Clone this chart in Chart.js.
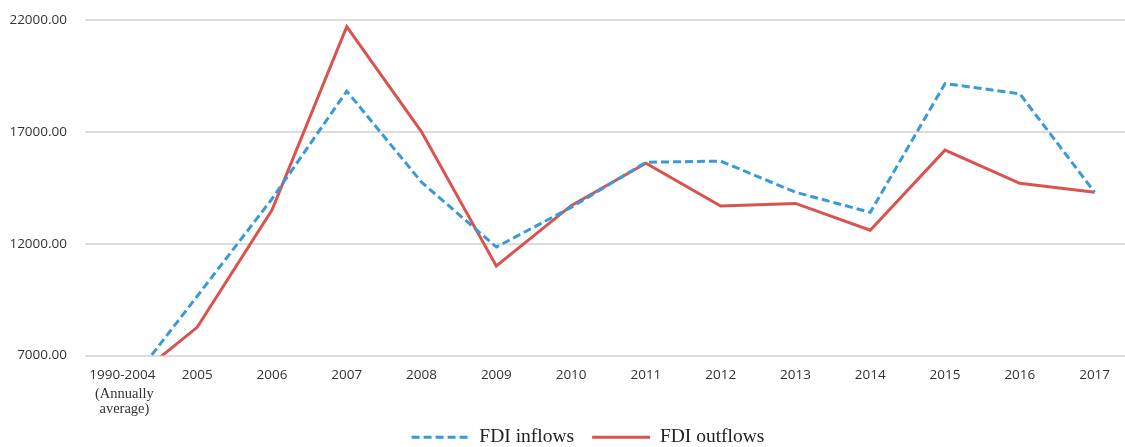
<!DOCTYPE html>
<html>
<head>
<meta charset="utf-8">
<script src="https://cdn.jsdelivr.net/npm/chart.js@4"></script>
<style>
  html, body { margin: 0; padding: 0; background: #fff; overflow: hidden; }
  #wrap { width: 1132px; height: 447px; }
</style>
</head>
<body>
<div id="wrap"><canvas id="myChart"></canvas></div>
<script>
// values
let years = [["1990-2004", "(Annually", "average)"], "2005", "2006", "2007", "2008", "2009", "2010",
  "2011", "2012", "2013", "2014", "2015", "2016", "2017"]
let inflows = [5330, 9650, 14000, 18820, 14750, 11850, 13620, 15640, 15690, 14300, 13400, 19160, 18700, 14300]
let outflows = [5560, 8260, 13500, 21700, 17000, 11000, 13700, 15600, 13680, 13800, 12600, 16180, 14700, 14300]
let yTicks = [7000, 12000, 17000, 22000]

let ctx = document.getElementById('myChart').getContext('2d')
let tickFont = { family: "'Open Sans', sans-serif", size: 13.5 }

// legend sits a bit right of the canvas centre in the original
let legendShift = {
  id: "legendShift",
  afterLayout(chart) {
    chart.legend.left += 22
    chart.legend.right += 22
  }
}

// the "(Annually average)" lines are set in a serif face
let subLabels = {
  id: "subLabels",
  afterDraw(chart) {
    let sx = chart.scales.x
    let c = chart.ctx
    c.save()
    c.fillStyle = "#333"
    c.font = "14.5px 'Liberation Serif', serif"
    c.textAlign = "center"
    c.textBaseline = "middle"
    years.forEach((lab, i) => {
      if (!Array.isArray(lab)) return
      lab.slice(1).forEach((line, k) => {
        c.fillText(line, sx.getPixelForTick(i) + 2, chart.chartArea.bottom + 39 + k * 15)
      })
    })
    c.restore()
  }
}

let myChart = new Chart(ctx, {
  type: "line",
  data: {
    labels: years,
    datasets: [{
      label: "FDI inflows",
      data: inflows,
      borderColor: "#3a9ad6",
      backgroundColor: "#3a9ad6",
      borderWidth: 3,
      borderDash: [8, 4],
      pointRadius: 0,
      tension: 0,
      fill: false
    }, {
      label: "FDI outflows",
      data: outflows,
      borderColor: "#d9534f",
      backgroundColor: "#d9534f",
      borderWidth: 3,
      pointRadius: 0,
      tension: 0,
      fill: false
    }]
  },
  options: {
    responsive: true,
    maintainAspectRatio: false,
    animation: false,
    layout: { padding: { top: 20, left: 0, right: 0, bottom: -10 } },
    plugins: {
      tooltip: { enabled: false },
      legend: {
        position: "bottom",
        labels: {
          boxWidth: 58,
          boxHeight: 0,
          padding: 18,
          color: "#222",
          font: { family: "'Liberation Serif', serif", size: 19.5 }
        }
      }
    },
    scales: {
      x: {
        offset: true,
        grid: { display: false, drawTicks: false },
        border: { display: false },
        ticks: {
          color: "#333", font: tickFont, padding: 12, maxRotation: 0, autoSkip: false,
          callback: function(v, i) { let l = years[i]; return Array.isArray(l) ? l[0] : l }
        },
        afterFit: function(s) { s.height = 54 }
      },
      y: {
        min: 7000,
        max: 22000,
        grid: { color: "#dcdcdc", lineWidth: 2, drawTicks: false },
        border: { display: false },
        afterBuildTicks: function(s) { s.ticks = yTicks.map(v => ({ value: v })) },
        ticks: {
          color: "#333",
          font: tickFont,
          padding: 18,
          callback: v => Number(v).toFixed(2)
        },
        afterFit: function(s) { s.width = 85; s.paddingTop = 0; s.paddingBottom = 0 }
      }
    }
  },
  plugins: [legendShift, subLabels]
})
</script>
</body>
</html>
